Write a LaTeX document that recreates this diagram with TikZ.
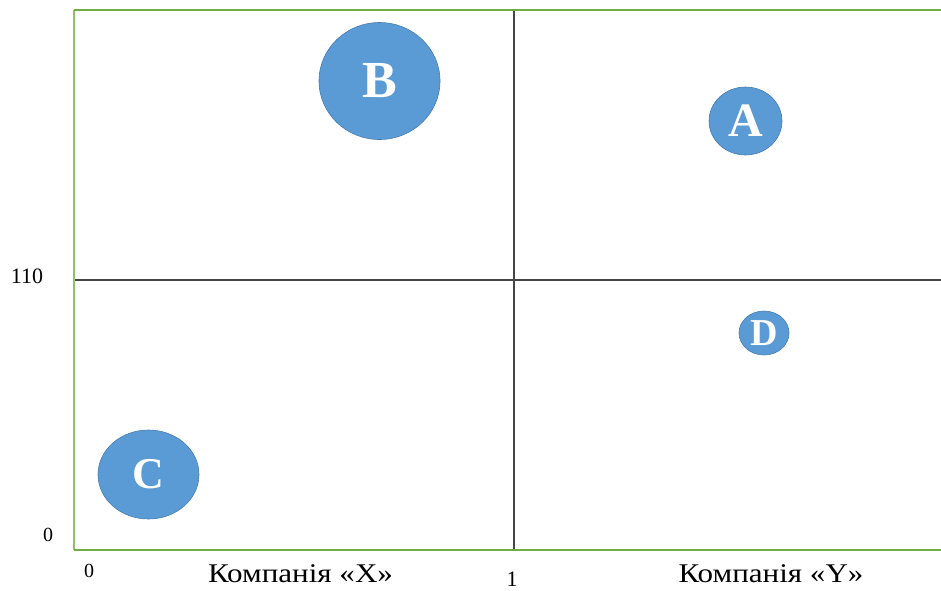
\documentclass[tikz,border=0pt]{standalone}
\usepackage{fontspec}
\setmainfont{Liberation Serif}
\usetikzlibrary{shapes.geometric}
\definecolor{gridgreen}{RGB}{140,195,105}
\definecolor{gridgreenD}{RGB}{112,173,71}
\definecolor{bubble}{RGB}{91,155,213}
\definecolor{bubbleline}{RGB}{70,125,175}
\definecolor{axisline}{RGB}{70,70,70}
\begin{document}
\begin{tikzpicture}[x=1pt,y=-1pt,
  bub/.style={ellipse, fill=bubble, draw=bubbleline, line width=0.6pt, inner sep=0pt, text=white, font=\bfseries},
  lbl/.style={inner sep=0pt, text=black, anchor=base}]
\useasboundingbox (0,0) rectangle (941,590);
% frame
\coordinate (tl) at (73.5,10);
\coordinate (tr) at (941,10);
\coordinate (bl) at (73.5,550);
\coordinate (br) at (941,550);
\coordinate (vt) at (514,10);
\coordinate (vb) at (514,550);
\coordinate (hl) at (73.5,280);
\coordinate (hr) at (941,280);
\draw[axisline, line width=1.3pt] (vt) -- (vb);
\draw[axisline, line width=1.3pt] (hl) -- (hr);
\draw[gridgreen, line width=2pt] (bl) -- (tl);
\draw[gridgreenD, line width=2pt] (tl) -- (tr);
\draw[gridgreenD, line width=1.5pt] (bl) -- (br);
% bubbles
\node[bub, minimum width=121pt, minimum height=117pt, font=\bfseries\fontsize{52}{52}\selectfont] (B) at (379.5,81) {B};
\node[bub, minimum width=73pt, minimum height=68pt, font=\bfseries\fontsize{48}{48}\selectfont] (A) at (745.5,121) {A};
\node[bub, minimum width=50pt, minimum height=44pt, font=\bfseries\fontsize{38}{38}\selectfont] (D) at (764,333) {D};
\node[bub, minimum width=101pt, minimum height=89pt, font=\bfseries\fontsize{44}{44}\selectfont] (C) at (148.5,474.5) {C};
% labels
\node[lbl, font=\fontsize{22}{22}\selectfont] (y110) at (27,283) {110};
\node[lbl, font=\fontsize{20}{20}\selectfont] (y0) at (48,541) {0};
\node[lbl, font=\fontsize{20}{20}\selectfont] (x0) at (89,577) {0};
\node[lbl, font=\fontsize{22}{22}\selectfont] (x1) at (512,586) {1};
\node[lbl, font=\fontsize{27}{27}\selectfont] (cx) at (300.5,582) {\scalebox{1.15}[1]{Компанія «X»}};
\node[lbl, font=\fontsize{27}{27}\selectfont] (cy) at (771,582) {\scalebox{1.15}[1]{Компанія «Y»}};
\end{tikzpicture}
\end{document}
